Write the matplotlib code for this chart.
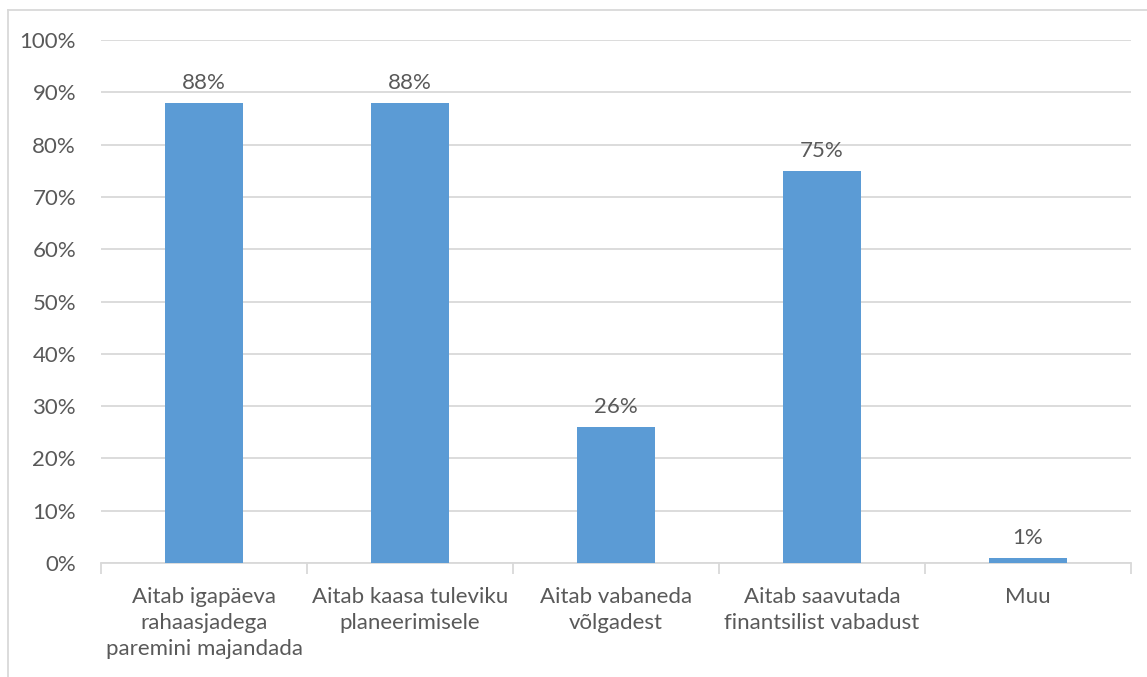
import matplotlib.pyplot as plt
from matplotlib.lines import Line2D
from matplotlib.ticker import FixedLocator, PercentFormatter

plt.rcParams['font.family'] = ['Lato', 'DejaVu Sans']

categories = [
    'Aitab igapäeva\nrahaasjadega\nparemini majandada',
    'Aitab kaasa tuleviku\nplaneerimisele',
    'Aitab vabaneda\nvõlgadest',
    'Aitab saavutada\nfinantsilist vabadust',
    'Muu',
]
values = [88, 88, 26, 75, 1]
labels = ['88%', '88%', '26%', '75%', '1%']

bar_color = '#5B9BD5'
grid_color = '#D9D9D9'
text_color = '#595959'
fs = 16

fig = plt.figure(figsize=(11.47, 6.77), dpi=100)
ax = fig.add_axes([101 / 1147, 1 - 563 / 677, 1030 / 1147, 523 / 677])

x = list(range(len(categories)))
bars = ax.bar(x, values, width=0.38, color=bar_color, zorder=3)

for rect, lab in zip(bars, labels):
    ax.annotate(lab, (rect.get_x() + rect.get_width() / 2, rect.get_height()),
                xytext=(0, 7), textcoords='offset points',
                ha='center', va='bottom', fontsize=fs, color=text_color)

ax.set_xlim(-0.5, len(categories) - 0.5)
ax.set_ylim(0, 100)
ax.set_yticks(range(0, 101, 10))
ax.yaxis.set_major_formatter(PercentFormatter(decimals=0))
ax.grid(axis='y', color=grid_color, linewidth=1.3, zorder=0)

ax.set_xticks(x)
ax.set_xticklabels(categories)
ax.xaxis.set_minor_locator(FixedLocator([i - 0.5 for i in range(len(categories) + 1)]))
ax.tick_params(axis='x', which='major', length=0, pad=17, labelsize=fs, labelcolor=text_color)
ax.tick_params(axis='x', which='minor', length=8, color=grid_color, width=1.3)
ax.tick_params(axis='y', length=0, pad=18, labelsize=fs, labelcolor=text_color)
for lab in ax.get_xticklabels():
    lab.set_linespacing(1.4)

for side in ['top', 'right', 'left']:
    ax.spines[side].set_visible(False)
ax.spines['bottom'].set_color(grid_color)
ax.spines['bottom'].set_linewidth(1.3)

# outer chart frame (only top and left edges fall inside the image)
fig.add_artist(Line2D([8 / 1147, 8 / 1147], [0, 1 - 10 / 677], color=grid_color, linewidth=1.3))
fig.add_artist(Line2D([8 / 1147, 1], [1 - 10 / 677, 1 - 10 / 677], color=grid_color, linewidth=1.3))

fig.savefig('out.png', dpi=100, facecolor='white')
